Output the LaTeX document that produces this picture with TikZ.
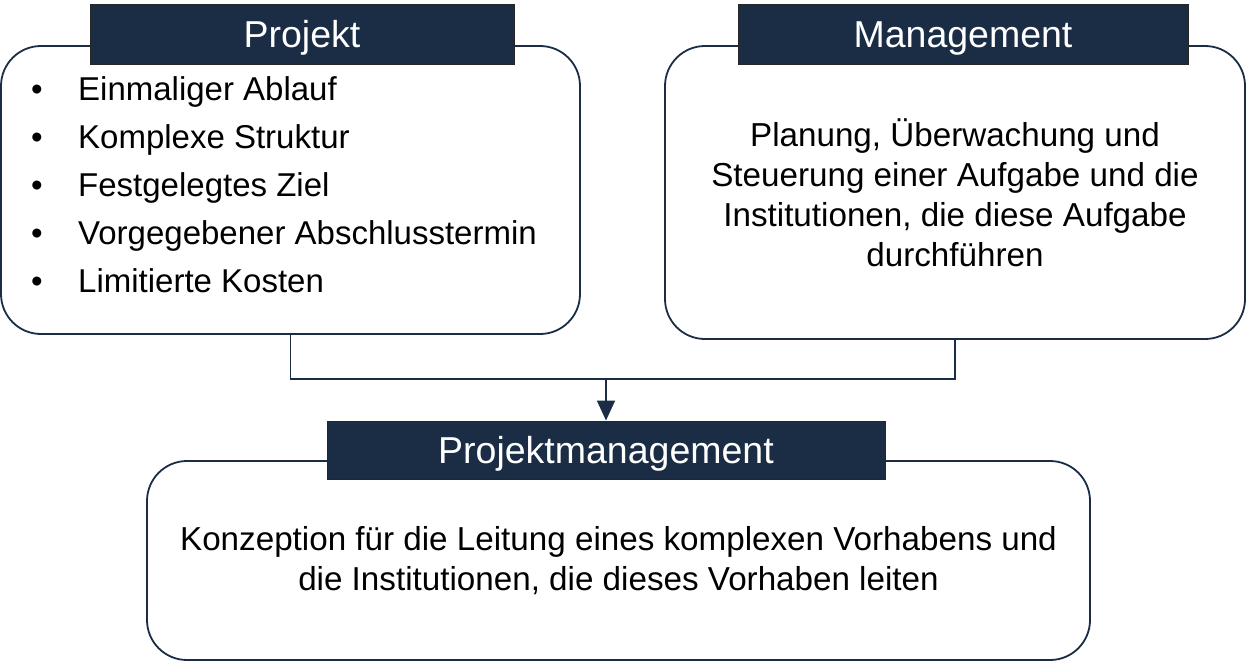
\documentclass[tikz,border=0pt]{standalone}
\usepackage{fontspec}
\setmainfont{Liberation Sans}
\usetikzlibrary{arrows.meta}
\definecolor{navy}{HTML}{1A2D45}
\tikzset{
  bigbox/.style={draw=navy, line width=1.8pt, rounded corners=40pt, fill=white, inner sep=0pt},
  headbox/.style={draw=black!85, line width=1pt, fill=navy, inner sep=0pt},
  headtext/.style={text=white, font=\fontsize{37.5}{40}\selectfont, inner sep=0pt},
  bodytext/.style={font=\fontsize{33.2}{40}\selectfont, align=center, inner sep=0pt},
  itemtext/.style={font=\fontsize{33}{40}\selectfont, inner sep=0pt, anchor=base west},
  bullettext/.style={font=\fontsize{33}{40}\selectfont, inner sep=0pt, anchor=base},
  conn/.style={draw=navy, line width=1.8pt},
}
\begin{document}
\begin{tikzpicture}[x=1pt,y=-1pt]
\useasboundingbox (0,0) rectangle (1246,661);
% big boxes
\node[bigbox, minimum width=579pt, minimum height=288pt] (pbox) at (290.5,190) {};
\node[bigbox, minimum width=580pt, minimum height=293pt] (mbox) at (955,192.5) {};
\node[bigbox, minimum width=943pt, minimum height=199pt] (pmbox) at (618.5,560.5) {};
% headers
\node[headbox, minimum width=424pt, minimum height=59pt] (phead) at (302,34.5) {};
\node[headbox, minimum width=450pt, minimum height=59pt] (mhead) at (963,34.5) {};
\node[headbox, minimum width=558pt, minimum height=58pt] (pmhead) at (606,450) {};
\node[headtext, anchor=base] (pheadt) at (302,48) {Projekt};
\node[headtext, anchor=base] (mheadt) at (963,48) {Management};
\node[headtext, anchor=base] (pmheadt) at (606,463) {Projektmanagement};
% list
\node[bullettext] (b1) at (37,100) {•};
\node[bullettext] (b2) at (37,148) {•};
\node[bullettext] (b3) at (37,196) {•};
\node[bullettext] (b4) at (37,244) {•};
\node[bullettext] (b5) at (37,292) {•};
\node[itemtext] (i1) at (78,100) {Einmaliger Ablauf};
\node[itemtext] (i2) at (78,148) {Komplexe Struktur};
\node[itemtext] (i3) at (78,196) {Festgelegtes Ziel};
\node[itemtext] (i4) at (78,244) {Vorgegebener Abschlusstermin};
\node[itemtext] (i5) at (78,292) {Limitierte Kosten};
% body texts
\node[bodytext] (mtext) at (955,193) {Planung, Überwachung und\\Steuerung einer Aufgabe und die\\Institutionen, die diese Aufgabe\\durchführen};
\node[bodytext] (pmtext) at (618.5,561) {Konzeption für die Leitung eines komplexen Vorhabens und\\die Institutionen, die dieses Vorhaben leiten};
% connectors
\coordinate (j) at (606,379);
\draw[conn] (pbox.south) |- (j);
\draw[conn] (mbox.south) |- (j);
\draw[conn, -{Triangle[length=20pt,width=18pt]}] (j) -- (pmhead.north);
\end{tikzpicture}
\end{document}
